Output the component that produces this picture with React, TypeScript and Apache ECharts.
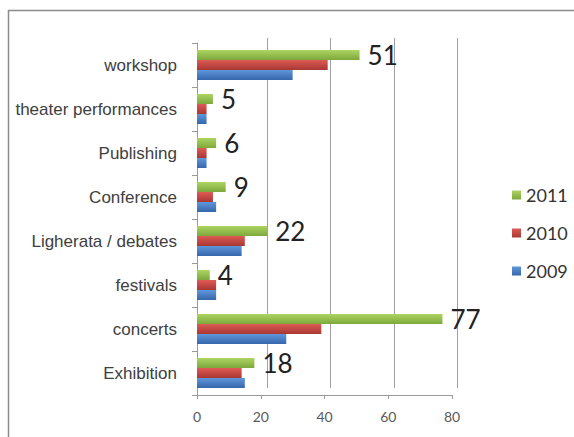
import React, { useEffect, useRef } from "react";
import * as echarts from "echarts";

const categories = [
  "Exhibition",
  "concerts",
  "festivals",
  "Ligherata / debates",
  "Conference",
  "Publishing",
  "theater performances",
  "workshop",
];
const values2009 = [15, 28, 6, 14, 6, 3, 3, 30];
const values2010 = [14, 39, 6, 15, 5, 3, 3, 41];
const values2011 = [18, 77, 4, 22, 9, 6, 5, 51];
const xTicks = { min: 0, max: 80, interval: 20 };
const legendOrder = ["2011", "2010", "2009"];

const grad = (top: string, bottom: string) =>
  new echarts.graphic.LinearGradient(0, 0, 0, 1, [
    { offset: 0, color: top },
    { offset: 1, color: bottom },
  ]);

export default function App() {
  const ref = useRef<HTMLDivElement>(null);
  useEffect(() => {
    if (!ref.current) return;
    const chart = echarts.init(ref.current, null, { renderer: "svg" });
    const green = grad("#acd563", "#7fa83c");
    const red = grad("#de5a55", "#a83733");
    const blue = grad("#5f97da", "#3766ab");
    chart.setOption({
      animation: false,
      backgroundColor: "#ffffff",
      graphic: [
        {
          type: "rect",
          shape: { x: 8.5, y: 10.5, width: 700, height: 700 },
          style: { fill: "none", stroke: "#8c8c8c", lineWidth: 1.5 },
          silent: true,
        },
      ],
      legend: {
        orient: "vertical",
        left: 507,
        top: 181,
        itemWidth: 9,
        itemHeight: 9,
        itemGap: 20,
        icon: "rect",
        data: legendOrder,
        textStyle: {
          fontFamily: "Lato",
          fontSize: 18,
          lineHeight: 18,
          color: "#333333",
        },
      },
      grid: [
        { left: 197, top: 43, width: 255, height: 352 },
        { left: 204, top: 38, width: 253, height: 350 },
      ],
      xAxis: [
        {
          type: "value",
          gridIndex: 0,
          min: xTicks.min,
          max: xTicks.max,
          interval: xTicks.interval,
          splitLine: { show: false },
          axisLine: { show: true, lineStyle: { color: "#9a9a9a", width: 1 } },
          axisTick: { show: true, length: 4, lineStyle: { color: "#9a9a9a" } },
          axisLabel: {
            margin: 14,
            fontFamily: "Lato",
            fontSize: 14,
            color: "#595959",
          },
        },
        {
          type: "value",
          gridIndex: 1,
          min: xTicks.min,
          max: xTicks.max,
          interval: xTicks.interval,
          axisLine: { show: false },
          axisTick: { show: false },
          axisLabel: { show: false },
          splitLine: {
            show: true,
            showMinLine: false,
            lineStyle: { color: "#a0a0a0", width: 1 },
          },
        },
      ],
      yAxis: [
        {
          type: "category",
          gridIndex: 0,
          data: categories,
          axisLine: { show: true, lineStyle: { color: "#9a9a9a", width: 1 } },
          axisTick: { show: true, length: 5, lineStyle: { color: "#9a9a9a" } },
          axisLabel: {
            margin: 20,
            fontFamily: "Liberation Sans",
            fontSize: 17,
            color: "#404040",
          },
        },
        {
          type: "category",
          gridIndex: 1,
          data: categories,
          show: false,
        },
      ],
      series: [
        {
          name: "2011",
          type: "bar",
          xAxisIndex: 0,
          yAxisIndex: 0,
          data: values2011,
          barWidth: 10,
          barGap: "0%",
          itemStyle: { color: green },
          label: {
            show: true,
            position: "right",
            distance: 8,
            fontFamily: "Lato",
            fontSize: 26,
            color: "#222222",
          },
        },
        {
          name: "2010",
          type: "bar",
          xAxisIndex: 0,
          yAxisIndex: 0,
          data: values2010,
          barWidth: 10,
          barGap: "0%",
          itemStyle: { color: red },
        },
        {
          name: "2009",
          type: "bar",
          xAxisIndex: 0,
          yAxisIndex: 0,
          data: values2009,
          barWidth: 10,
          barGap: "0%",
          itemStyle: { color: blue },
        },
      ],
    });
    return () => chart.dispose();
  }, []);
  return (
    <div
      ref={ref}
      style={{ position: "absolute", left: 0, top: 0, width: 574, height: 437 }}
    />
  );
}
